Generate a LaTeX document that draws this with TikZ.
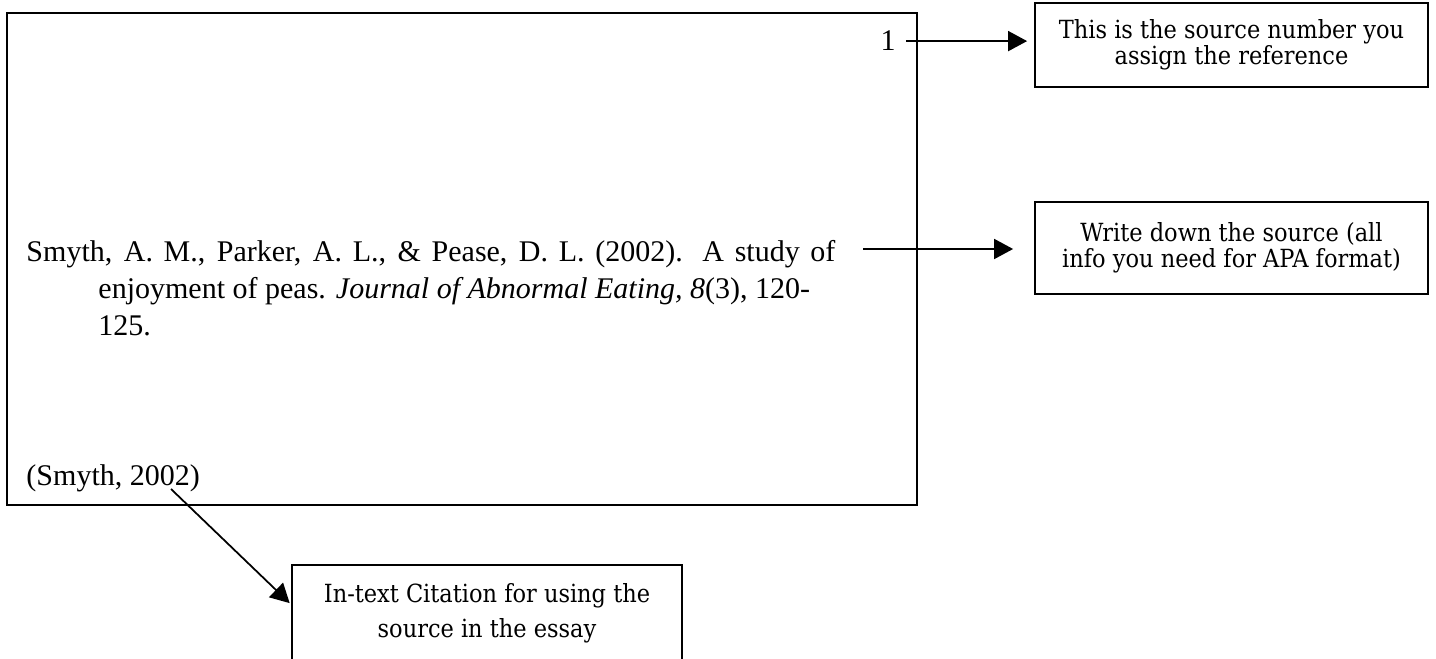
\documentclass[tikz,border=0pt]{standalone}
\usepackage{fontspec}
\setmainfont{Liberation Serif}
\newfontfamily\notefont{DejaVu Serif Condensed}
\usetikzlibrary{arrows.meta,positioning}

\tikzset{
  notebox/.style={draw, line width=0.7pt, inner sep=0pt, align=center,
    font=\notefont\fontsize{10}{10.6}\selectfont},
  pointer/.style={-{Triangle[length=7.6pt,width=8pt]}, line width=0.7pt},
  reftext/.style={inner sep=0pt, font=\fontsize{12}{14.8}\selectfont}
}

\begin{document}
\begin{tikzpicture}[x=0.4pt,y=-0.4pt]
\useasboundingbox (0,0) rectangle (1436,659);

% the note card
\node[draw, line width=0.8pt, inner sep=0pt,
  minimum width=364pt, minimum height=196.8pt] (card) at (462,259) {};
\node[reftext, anchor=base] (num) at (888,51) {1};
\node[reftext, anchor=north west, align=left] (entry) at (26,240)
  {\hbox to 323.6pt{Smyth, A. M., Parker, A. L., \& Pease, D. L. (2002). A study of}\\
   \hspace*{28.8pt}enjoyment of peas. \textit{Journal of Abnormal Eating, 8}(3), 120-\\
   \hspace*{28.8pt}125.};
\node[reftext, anchor=base west] (cite) at (26,485) {(Smyth, 2002)};

% explanations
\node[notebox, minimum width=157.2pt, minimum height=33.6pt] (srcnum) at (1231.5,45)
  {This is the source number you\\assign the reference};
\node[notebox, minimum width=157.2pt, minimum height=36.8pt] (srcinfo) at (1231.5,248)
  {Write down the source (all\\info you need for APA format)};
\node[notebox, font=\notefont\fontsize{10}{14}\selectfont,
  minimum width=156pt, minimum height=38.8pt] (intext) at (487,613.5)
  {In-text Citation for using the\\source in the essay};

% pointers
\coordinate (entryend) at (863,249);
\coordinate (citefoot) at (171,489);
\draw[pointer, shorten >=2.8pt] ([xshift=4pt]num.east) -- (num.east -| srcnum.west);
\draw[pointer, shorten >=8.4pt] (entryend) -- (entryend -| srcinfo.west);
\draw[pointer, shorten >=0.8pt] (citefoot) -- ([yshift=3.6pt]intext.west);
\end{tikzpicture}
\end{document}
